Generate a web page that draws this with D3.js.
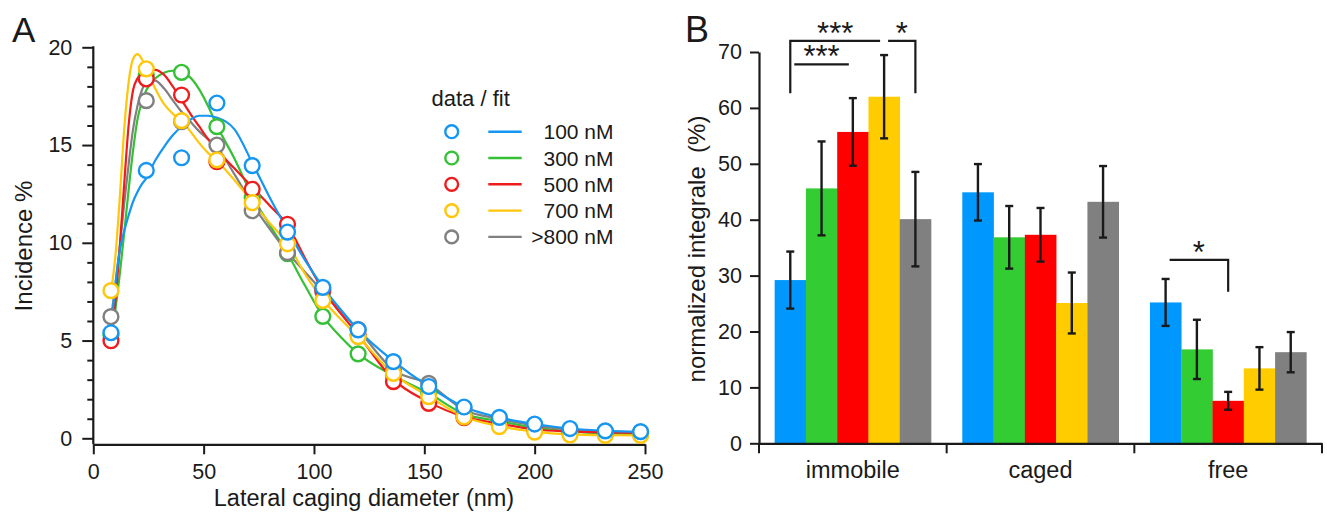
<!DOCTYPE html>
<html><head><meta charset="utf-8">
<script src="https://cdn.jsdelivr.net/npm/d3@7"></script>
<style>
html,body{margin:0;padding:0;background:#fff;}
svg{display:block;font-family:"Liberation Sans",Arial,Helvetica,sans-serif;}
</style></head><body>
<svg id="fig" width="1327" height="514"></svg>
<script>
// ---------- Panel A: lateral caging diameter distributions ----------
const diameters = [8, 24, 40, 56, 72, 88, 104, 120, 136, 152, 168, 184, 200, 216, 232, 248];
const concentrations = ["100 nM", "300 nM", "500 nM", "700 nM", ">800 nM"];

const incidence100 = [5.4, 13.7, 14.35, 17.15, 13.95, 10.55, 7.72, 5.55, 3.92, 2.65, 1.6, 1.07, 0.73, 0.5, 0.38, 0.34];
const incidence300 = [5.28, 18.6, 18.72, 15.94, 12.3, 9.45, 6.24, 4.32, 3.2, 2.3, 1.2, 0.85, 0.55, 0.35, 0.25, 0.22];
const incidence500 = [4.99, 18.38, 17.56, 14.15, 12.74, 10.95, 7.6, 5.3, 2.9, 1.79, 1.05, 0.72, 0.45, 0.32, 0.28, 0.25];
const incidence700 = [7.55, 18.9, 16.25, 14.24, 12.05, 9.95, 7.05, 5.2, 3.32, 2.13, 1.1, 0.6, 0.32, 0.17, 0.15, 0.15];
const incidence800 = [6.22, 17.27, 16.2, 15.0, 11.64, 9.5, 7.5, 5.57, 3.49, 2.81, 1.45, 1.0, 0.65, 0.45, 0.35, 0.3];

// fitted curves, sampled along the diameter axis
const fitDiameters = [8, 10, 12, 14, 16, 18, 20, 22, 24, 28, 32, 36, 40, 44, 48, 52, 56, 64, 72, 80, 88, 96, 104, 112, 120, 136, 152, 168, 184, 200, 216, 232, 248];
const fit100 = [5.4, 7.9, 9.6, 10.6, 11.4, 12.1, 12.6, 13.0, 13.3, 14.2, 14.9, 15.5, 15.95, 16.3, 16.5, 16.5, 16.4, 15.8, 14.1, 12.3, 10.65, 9.1, 7.75, 6.6, 5.55, 3.95, 2.65, 1.6, 1.07, 0.73, 0.5, 0.38, 0.34];
const fit300 = [5.3, 6.6, 8.4, 10.5, 12.7, 14.7, 16.3, 17.2, 17.8, 18.4, 18.7, 18.8, 18.72, 18.45, 17.85, 17.0, 16.0, 14.3, 12.4, 10.9, 9.45, 7.8, 6.25, 5.2, 4.33, 3.2, 2.3, 1.25, 0.88, 0.55, 0.35, 0.25, 0.22];
const fit500 = [5.0, 7.0, 9.8, 13.0, 16.0, 17.8, 18.4, 18.65, 18.8, 18.85, 18.6, 18.0, 17.3, 16.6, 15.95, 15.3, 14.75, 13.8, 12.85, 11.9, 10.9, 9.2, 7.6, 6.4, 5.3, 3.0, 1.85, 1.1, 0.75, 0.45, 0.35, 0.3, 0.27];
const fit700 = [7.5, 9.3, 12.3, 15.8, 18.2, 19.4, 19.65, 19.4, 18.9, 17.9, 17.1, 16.6, 16.25, 15.7, 15.1, 14.6, 14.2, 13.2, 12.1, 11.0, 9.95, 8.4, 7.1, 6.1, 5.2, 3.3, 2.15, 1.1, 0.62, 0.34, 0.2, 0.16, 0.15];
const fit800 = [6.2, 7.8, 9.8, 12.0, 14.0, 15.8, 17.0, 17.8, 18.2, 18.3, 17.9, 17.3, 16.7, 16.2, 15.7, 15.3, 14.9, 13.5, 12.0, 10.7, 9.5, 8.5, 7.5, 6.5, 5.55, 3.5, 2.78, 1.45, 1.0, 0.65, 0.45, 0.35, 0.3];

const xTicksA = [0, 50, 100, 150, 200, 250];
const yTicksA = [0, 5, 10, 15, 20];

// ---------- Panel B: normalized integrals per mobility class ----------
const mobilityClasses = ["immobile", "caged", "free"];
const integral100 = [29.2, 44.9, 25.2];
const integral300 = [45.6, 36.85, 16.8];
const integral500 = [55.7, 37.3, 7.6];
const integral700 = [62.0, 25.1, 13.4];
const integral800 = [40.1, 43.2, 16.3];
const error100 = [5.1, 5.05, 4.2];
const error300 = [8.4, 5.6, 5.3];
const error500 = [6.05, 4.8, 1.6];
const error700 = [7.45, 5.45, 3.8];
const error800 = [8.45, 6.4, 3.6];
const yTicksB = [0, 10, 20, 30, 40, 50, 60, 70];

// significance brackets: series indices inside a class, bracket level and drop ends (in %)
const significance = [
  { cls: "immobile", from: 0, to: 3, level: 72.0, dropFrom: 62.6, dropTo: null, label: "***" },
  { cls: "immobile", from: 3, to: 4, level: 72.0, dropFrom: null, dropTo: 62.6, label: "*" },
  { cls: "immobile", from: 0, to: 2, level: 67.8, dropFrom: null, dropTo: null, label: "***" },
  { cls: "free", from: 0, to: 2, level: 32.8, dropFrom: null, dropTo: 27.1, label: "*" }
];

const lineColors = ["#1596f2", "#35c035", "#ee1c1c", "#ffc60a", "#808080"];
const barColors = ["#0098ff", "#33cc33", "#ff0000", "#ffcc00", "#808080"];
const INK = "#1a1a1a";

const svg = d3.select("#fig");

function styleAxis(g, fontSize) {
  g.selectAll(".tick line").attr("stroke", INK).attr("stroke-width", 2);
  g.selectAll(".tick text").attr("fill", INK).style("font-size", fontSize + "px")
    .style("font-family", '"Liberation Sans", Arial, sans-serif');
  g.select(".domain").attr("stroke", INK).attr("stroke-width", 2.2);
}

// ===== Panel A =====
const xA = d3.scaleLinear().domain([0, 250]).range([93.3, 645]);
const yA = d3.scaleLinear().domain([0, 20]).range([438.3, 47.3]);
const xAxisYA = 444.3;
const gA = svg.append("g");

const yMinorA = d3.range(0, 21).filter(v => v % 5 !== 0);
gA.append("g").attr("transform", `translate(${xA(0)},0)`)
  .call(d3.axisLeft(yA).tickValues(yMinorA).tickSize(6).tickFormat(""))
  .call(g => { styleAxis(g, 21); g.select(".domain").remove(); });
gA.append("g").attr("transform", `translate(${xA(0)},0)`)
  .call(d3.axisLeft(yA).tickValues(yTicksA).tickSize(11).tickPadding(10).tickFormat(d3.format("d")))
  .call(g => { styleAxis(g, 21.5); g.select(".domain").remove(); });
gA.append("line")
  .attr("x1", xA(0)).attr("x2", xA(0)).attr("y1", yA(20) - 1).attr("y2", xAxisYA)
  .attr("stroke", INK).attr("stroke-width", 2.2);
gA.append("g").attr("transform", `translate(0,${xAxisYA})`)
  .call(d3.axisBottom(xA).tickValues(xTicksA).tickSize(10).tickSizeOuter(0).tickPadding(9).tickFormat(d3.format("d")))
  .call(g => styleAxis(g, 21.5));

gA.append("text").attr("x", 364).attr("y", 506).attr("text-anchor", "middle")
  .attr("fill", INK).style("font-size", "23.5px").text("Lateral caging diameter (nm)");
gA.append("text").attr("transform", "translate(32,246) rotate(-90)").attr("text-anchor", "middle")
  .attr("fill", INK).style("font-size", "24px").text("Incidence %");
svg.append("text").attr("x", 12).attr("y", 41.7).attr("fill", INK).style("font-size", "35px").text("A");

const seriesA = [
  { i: 1, data: incidence300, fit: fit300 },
  { i: 4, data: incidence800, fit: fit800 },
  { i: 2, data: incidence500, fit: fit500 },
  { i: 3, data: incidence700, fit: fit700 },
  { i: 0, data: incidence100, fit: fit100 }
];
const fitLine = d3.line().x(d => xA(d[0])).y(d => yA(d[1])).curve(d3.curveMonotoneX);
seriesA.forEach(s => {
  gA.append("path").datum(fitDiameters.map((x, k) => [x, s.fit[k]]))
    .attr("d", fitLine).attr("fill", "none").attr("stroke", lineColors[s.i])
    .attr("stroke-width", 2.2).attr("stroke-linejoin", "round");
});
seriesA.forEach(s => {
  gA.append("g").selectAll("circle").data(diameters.map((x, k) => [x, s.data[k]])).join("circle")
    .attr("cx", d => xA(d[0])).attr("cy", d => yA(d[1])).attr("r", 7.4)
    .attr("fill", "#fff").attr("stroke", lineColors[s.i]).attr("stroke-width", 2.4);
});

// legend
const legA = gA.append("g");
legA.append("text").attr("x", 431.5).attr("y", 106).attr("fill", INK).style("font-size", "22px").text("data / fit");
concentrations.forEach((name, i) => {
  const cy = 131.7 + i * 26.3;
  legA.append("circle").attr("cx", 451.7).attr("cy", cy).attr("r", 6.4)
    .attr("fill", "#fff").attr("stroke", lineColors[i]).attr("stroke-width", 2.4);
  legA.append("line").attr("x1", 488.3).attr("x2", 521.7).attr("y1", cy).attr("y2", cy)
    .attr("stroke", lineColors[i]).attr("stroke-width", 2.4);
  legA.append("text").attr("x", 613.5).attr("y", cy + 7.5).attr("text-anchor", "end")
    .attr("fill", INK).style("font-size", "21px").text(name);
});

// ===== Panel B =====
const xB = d3.scaleBand().domain(mobilityClasses).range([759, 1322]).padding(0);
const xInner = d3.scaleBand().domain(d3.range(concentrations.length)).range([0, xB.bandwidth()])
  .paddingInner(0).paddingOuter(0.5);
const yB = d3.scaleLinear().domain([0, 70]).range([443.3, 52]);
const gB = svg.append("g");

const integrals = [integral100, integral300, integral500, integral700, integral800];
const errors = [error100, error300, error500, error700, error800];
const barData = [];
mobilityClasses.forEach((cls, c) => integrals.forEach((vals, i) =>
  barData.push({ cls, i, v: vals[c], e: errors[i][c] })));

gB.append("g").selectAll("rect").data(barData).join("rect")
  .attr("x", d => xB(d.cls) + xInner(d.i)).attr("width", xInner.bandwidth() + 0.3)
  .attr("y", d => yB(d.v)).attr("height", d => yB(0) - yB(d.v))
  .attr("fill", d => barColors[d.i]);

const errG = gB.append("g").attr("stroke", INK).attr("stroke-width", 2.4);
barData.forEach(d => {
  const cx = xB(d.cls) + xInner(d.i) + xInner.bandwidth() / 2;
  errG.append("line").attr("x1", cx).attr("x2", cx).attr("y1", yB(d.v - d.e)).attr("y2", yB(d.v + d.e));
  [d.v - d.e, d.v + d.e].forEach(v => errG.append("line")
    .attr("x1", cx - 4).attr("x2", cx + 4).attr("y1", yB(v)).attr("y2", yB(v)));
});

gB.append("g").attr("transform", `translate(${xB.range()[0]},0)`)
  .call(d3.axisLeft(yB).tickValues(yTicksB).tickSize(9).tickSizeOuter(0).tickPadding(8))
  .call(g => styleAxis(g, 21.5));
gB.append("g").attr("transform", `translate(0,${yB(0)})`)
  .call(d3.axisBottom(xB).tickSize(0).tickPadding(18))
  .call(g => styleAxis(g, 23.5));
const bounds = mobilityClasses.map(c => xB(c)).concat([xB.range()[1]]);
gB.append("g").selectAll("line").data(bounds).join("line")
  .attr("x1", d => d).attr("x2", d => d).attr("y1", yB(0)).attr("y2", yB(0) + 10)
  .attr("stroke", INK).attr("stroke-width", 2);

gB.append("text").attr("transform", "translate(705,249) rotate(-90)").attr("text-anchor", "middle")
  .attr("fill", INK).style("font-size", "24px").style("white-space", "pre").text("normalized integrale  (%)");
svg.append("text").attr("x", 685).attr("y", 41.7).attr("fill", INK).style("font-size", "36px").text("B");

// significance brackets
const sigG = gB.append("g");
const centerOf = (cls, i) => xB(cls) + xInner(i) + xInner.bandwidth() / 2;
significance.forEach(s => {
  const x1 = centerOf(s.cls, s.from) + (s.dropFrom == null ? 4 : 0);
  const x2 = centerOf(s.cls, s.to) - (s.dropTo == null ? 4 : 0);
  const yl = yB(s.level);
  const pts = [];
  if (s.dropFrom != null) pts.push([x1, yB(s.dropFrom)]);
  pts.push([x1, yl], [x2, yl]);
  if (s.dropTo != null) pts.push([x2, yB(s.dropTo)]);
  sigG.append("path").attr("d", d3.line()(pts)).attr("fill", "none")
    .attr("stroke", INK).attr("stroke-width", 2.2);
  sigG.append("text").attr("x", (x1 + x2) / 2).attr("y", yl - 7.5 + 10.5)
    .attr("text-anchor", "middle").attr("fill", INK).style("font-size", "31px").text(s.label);
});
</script>
</body></html>
